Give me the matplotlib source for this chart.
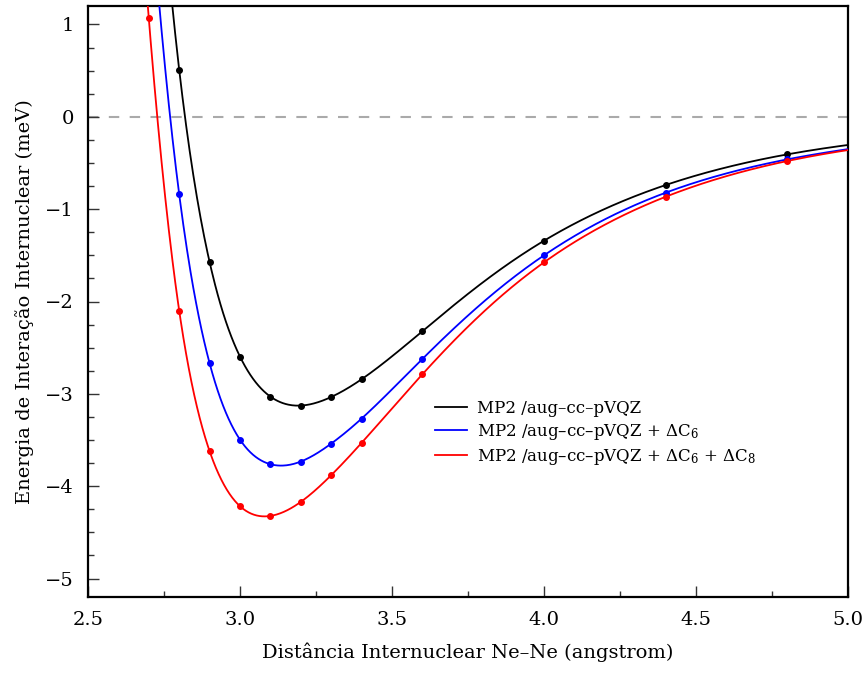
import numpy as np
import matplotlib
matplotlib.use("Agg")
import matplotlib.pyplot as plt
from matplotlib.ticker import MultipleLocator

# ---- data ----
r_black = [2.7, 2.8, 2.9, 3.0, 3.1, 3.2, 3.3, 3.4, 3.6, 4.0, 4.4, 4.8]
e_black = [4.30, 0.509, -1.573, -2.597, -3.030, -3.127, -3.034, -2.842, -2.322, -1.342, -0.739, -0.407]

r_blue = [2.7, 2.8, 2.9, 3.0, 3.1, 3.2, 3.3, 3.4, 3.6, 4.0, 4.4, 4.8]
e_blue = [2.60, -0.840, -2.669, -3.496, -3.762, -3.733, -3.539, -3.268, -2.622, -1.500, -0.822, -0.461]

r_red = [2.7, 2.8, 2.9, 3.0, 3.1, 3.2, 3.3, 3.4, 3.6, 4.0, 4.4, 4.8]
e_red = [1.065, -2.100, -3.621, -4.217, -4.322, -4.170, -3.881, -3.531, -2.788, -1.576, -0.866, -0.479]

labels = ["MP2 /aug–cc–pVQZ",
          r"MP2 /aug–cc–pVQZ + $\Delta$C$_6$",
          r"MP2 /aug–cc–pVQZ + $\Delta$C$_6$ + $\Delta$C$_8$"]
colors = ["black", "blue", "red"]

xlabel = "Distância Internuclear Ne–Ne (angstrom)"
ylabel = "Energia de Interação Internuclear (meV)"


def natural_spline(x, y, xs):
    x = np.asarray(x, float)
    y = np.asarray(y, float)
    n = len(x)
    h = np.diff(x)
    A = np.zeros((n, n))
    b = np.zeros(n)
    A[0, 0] = 1.0
    A[-1, -1] = 1.0
    for i in range(1, n - 1):
        A[i, i - 1] = h[i - 1]
        A[i, i] = 2 * (h[i - 1] + h[i])
        A[i, i + 1] = h[i]
        b[i] = 6 * ((y[i + 1] - y[i]) / h[i] - (y[i] - y[i - 1]) / h[i - 1])
    M = np.linalg.solve(A, b)
    xs = np.asarray(xs, float)
    out = np.empty_like(xs)
    for k, xv in enumerate(xs):
        if xv > x[-1]:
            hh = h[-1]
            slope = (y[-1] - y[-2]) / hh + hh * (2 * M[-1] + M[-2]) / 6
            out[k] = y[-1] + slope * (xv - x[-1])
            continue
        if xv < x[0]:
            hh = h[0]
            slope = (y[1] - y[0]) / hh - hh * (2 * M[0] + M[1]) / 6
            out[k] = y[0] + slope * (xv - x[0])
            continue
        i = int(np.clip(np.searchsorted(x, xv) - 1, 0, n - 2))
        hh = h[i]
        a = x[i + 1] - xv
        c = xv - x[i]
        out[k] = (M[i] * a ** 3 / (6 * hh) + M[i + 1] * c ** 3 / (6 * hh)
                  + (y[i] / hh - M[i] * hh / 6) * a
                  + (y[i + 1] / hh - M[i + 1] * hh / 6) * c)
    return out


def smooth_curve(r, e, xs):
    # spline of E*r^6 (long-range dispersion form), then back-transform
    r = np.asarray(r, float)
    e = np.asarray(e, float)
    u = natural_spline(r, e * r ** 6, xs)
    return u / xs ** 6


plt.rcParams["font.family"] = ["DejaVu Serif"]
plt.rcParams["mathtext.fontset"] = "dejavuserif"

fig = plt.figure(figsize=(8.66, 6.73), dpi=100)
ax = fig.add_axes([88 / 866, 1 - 597 / 673, 760 / 866, 591 / 673])

ax.axhline(0, color="#aaaaaa", lw=1.5, ls=(0, (5, 5)), zorder=1)

series = [(r_black, e_black), (r_blue, e_blue), (r_red, e_red)]
xs = np.linspace(2.62, 5.0, 800)
for (r, e), col, lab in zip(series, colors, labels):
    ys = smooth_curve(r, e, xs)
    ax.plot(xs, ys, color=col, lw=1.3, label=lab, zorder=3)
    ax.plot(r, e, "o", color=col, ms=4, zorder=4)

ax.set_xlim(2.5, 5.0)
ax.set_ylim(-5.2, 1.2)
ax.xaxis.set_major_locator(MultipleLocator(0.5))
ax.xaxis.set_minor_locator(MultipleLocator(0.25))
ax.yaxis.set_major_locator(MultipleLocator(1))
ax.yaxis.set_minor_locator(MultipleLocator(0.25))
ax.xaxis.set_major_formatter(matplotlib.ticker.FormatStrFormatter("%.1f"))
ax.tick_params(which="both", direction="in", top=False, right=False,
               labelsize=14, width=1.0, color="#333333")
ax.tick_params(which="major", length=8, pad=10)
ax.tick_params(which="minor", length=4)
for s in ax.spines.values():
    s.set_linewidth(1.6)

ax.set_xlabel(xlabel, fontsize=14, labelpad=10)
ax.set_ylabel(ylabel, fontsize=14, labelpad=8)

ax.legend(loc="center left", bbox_to_anchor=(0.437, 0.277), frameon=False,
          fontsize=12, handlelength=1.9, handletextpad=0.6, labelspacing=0.3)

fig.savefig("out.png", dpi=100)
